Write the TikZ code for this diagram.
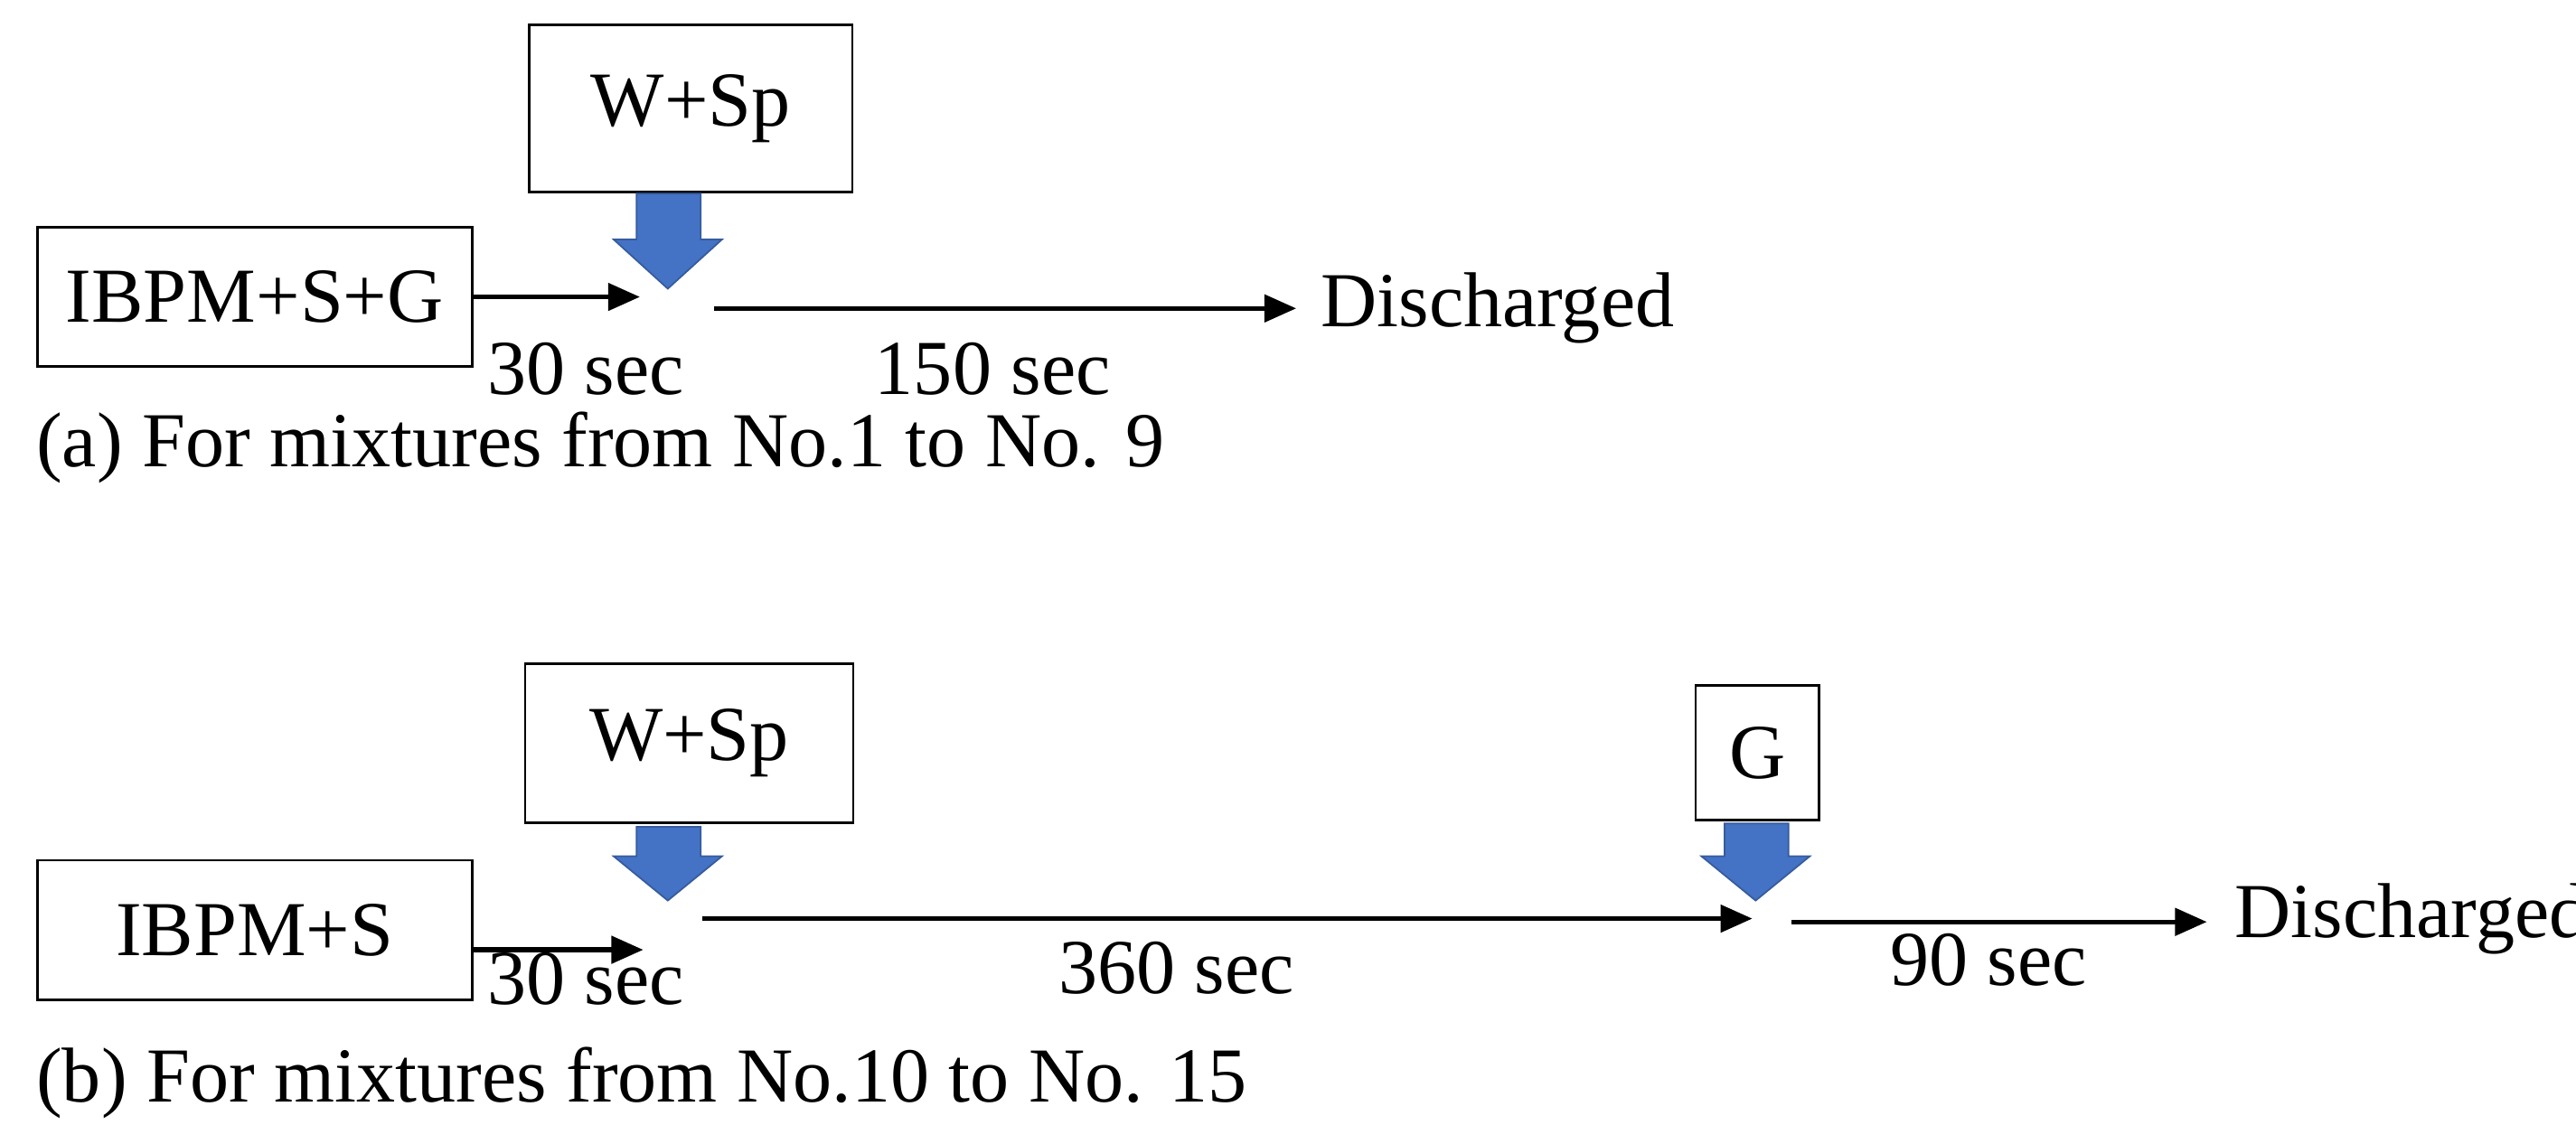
\documentclass[tikz,border=0pt]{standalone}
\usepackage{fontspec}
\setmainfont{Liberation Serif}
\usetikzlibrary{arrows.meta}
\definecolor{blueA}{HTML}{4472C4}
\def\uu{0.0363cm}
\begin{document}
\begin{tikzpicture}[x=\uu,y=-\uu,
  box/.style={draw,line width=1.5pt,inner sep=0,font=\fontsize{49}{56}\selectfont},
  lbl/.style={font=\fontsize{49}{56}\selectfont,inner sep=0},
  flow/.style={line width=3pt,-{Triangle[length=20pt,width=17pt]}},
  feed/.style={fill=blueA,draw=blueA!80!black,line width=1pt}]
\useasboundingbox (0,0) rectangle (1570,697);
% (a)
\node[box,minimum width=197*\uu,minimum height=102*\uu] (w1) at (421,66) {W+Sp};
\node[box,minimum width=265*\uu,minimum height=85*\uu,anchor=west] (i1) at (22,181) {IBPM+S+G};
\draw[flow] (i1.east) -- (390,181);
\draw[flow] (435,188) -- (790,188);
\node[lbl,anchor=west] (d1) at (805,188) {Discharged};
\node[lbl] (t1) at (357,225) {30 sec};
\node[lbl] (t2) at (605,225) {150 sec};
\node[lbl,anchor=west] (c1) at (22,273) {(a) For mixtures from No.1 to No. 9};
\draw[feed] (388,118) -- (427,118) -- (427,146) -- (440,146) -- (407,176) -- (374,146) -- (388,146) -- cycle;
% (b)
\node[box,minimum width=200*\uu,minimum height=97*\uu] (w2) at (420,453) {W+Sp};
\node[box,minimum width=265*\uu,minimum height=85*\uu,anchor=west] (i2) at (22,567) {IBPM+S};
\node[box,minimum width=75*\uu,minimum height=82*\uu] (g2) at (1071,459) {G};
\draw[flow] (i2.east) ++(0,12) -- (392,579);
\draw[flow] (428,560) -- (1068,560);
\draw[flow] (1092,562) -- (1345,562);
\node[lbl,anchor=west] (d2) at (1362,560) {Discharged};
\node[lbl] (t3) at (357,597) {30 sec};
\node[lbl] (t4) at (717,590) {360 sec};
\node[lbl] (t5) at (1212,585) {90 sec};
\node[lbl,anchor=west] (c2) at (22,660) {(b) For mixtures from No.10 to No. 15};
\draw[feed] (388,504) -- (427,504) -- (427,522) -- (440,522) -- (407,549) -- (374,522) -- (388,522) -- cycle;
\draw[feed] (1051,502) -- (1090,502) -- (1090,522) -- (1103,522) -- (1070,549) -- (1037,522) -- (1051,522) -- cycle;
\end{tikzpicture}
\end{document}
